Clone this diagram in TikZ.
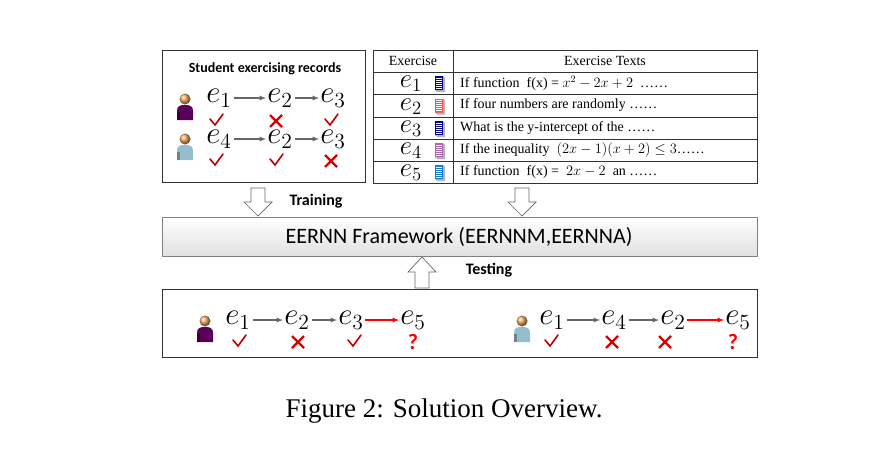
\documentclass[tikz,border=0pt]{standalone}
\usepackage{fontspec}
\usepackage{graphicx}
\setmainfont{Liberation Serif}
\newfontfamily\carl{Carlito}
\newcommand\bigE[1]{\scalebox{1.5}{$e_{#1}$}}
\newcommand\midE[1]{\scalebox{1.3}{$e_{#1}$}}
\tikzset{
  box/.style={draw=black!80, line width=0.8pt},
  ee/.style={inner sep=1pt, font=\fontsize{20}{20}\selectfont},
  ar/.style={-latex, draw=black!60, line width=1.2pt, shorten <=1pt, shorten >=0pt},
  rar/.style={-latex, draw=red, line width=1.2pt},
  tt/.style={anchor=west, inner sep=0pt, font=\fontsize{14}{14}\selectfont},
  lbl/.style={font=\carl\bfseries\fontsize{16}{16}\selectfont, inner sep=0pt},
  chk/.pic={\draw[red!75!black, line width=1.6pt, line cap=round] (-6,-1) -- (-1,5) -- (7,-6);},
  crs/.pic={\draw[red!85!black, line width=2.2pt] (-6,-6) -- (6,6) (-6,6) -- (6,-6);},
  qm/.pic={\node[red, font=\carl\bfseries\fontsize{22}{22}\selectfont] {?};},
  person/.pic={
    \fill[pcol] (-8,12) -- (-8,3) .. controls (-8,-2) and (-5,-3) .. (0,-3) .. controls (5,-3) and (8,-2) .. (8,3) -- (8,12) -- cycle;
    \fill[pcol!60!black] (-8,12) rectangle (-5,4);
    \shade[ball color=orange!60!brown!70] (0,-9) circle (5.5);},
  doc/.pic={
    \fill[pcol] (-4,-7) rectangle (4,7);
    \foreach \k in {-5,-3,...,5} \draw[white, line width=0.4pt] (-3,\k) -- (3,\k);
    \fill[gray!60] (4,-7) -- (6,-5) -- (6,9) -- (-2,9) -- (-4,7) -- (4,7) -- cycle;},
  hollow/.style={draw=black!60, fill=white, line width=0.7pt}
}
\begin{document}
\begin{tikzpicture}[x=1pt,y=-1pt]
\useasboundingbox (0,0) rectangle (888,458);

% Left records box
\node[box, minimum width=203pt, minimum height=132pt, anchor=north west] (rec) at (162,50) {};
\node[font=\carl\bfseries\fontsize{14}{14}\selectfont] (rt) at (265,69) {Student exercising records};
\colorlet{pcol}{violet!70!black}\pic at (185,108) {person};
\colorlet{pcol}{cyan!40!gray!70}\pic at (185,148) {person};
\node[ee] (a1) at (219,98) {\bigE1};
\node[ee] (a2) at (280,98) {\bigE2};
\node[ee] (a3) at (333,98) {\bigE3};
\draw[ar] (a1) -- (a2); \draw[ar] (a2) -- (a3);
\node[ee] (b1) at (219,139) {\bigE4};
\node[ee] (b2) at (280,139) {\bigE2};
\node[ee] (b3) at (333,139) {\bigE3};
\draw[ar] (b1) -- (b2); \draw[ar] (b2) -- (b3);
\pic at (216,120) {chk}; \pic at (276,121) {crs}; \pic at (331,120) {chk};
\pic at (216,160) {chk}; \pic at (276,160) {chk}; \pic at (331,161) {crs};

% Table
\node[box, minimum width=384pt, minimum height=133pt, anchor=north west] (tab) at (373,50) {};
\draw[black!80, line width=0.7pt] (453,50) -- (453,183);
\foreach \yy in {72,94.5,117,139,161} \draw[black!80, line width=0.7pt] (373,\yy) -- (757,\yy);
\node[font=\fontsize{14}{14}\selectfont] (h1) at (413,61) {Exercise};
\node[font=\fontsize{14}{14}\selectfont] (h2) at (605,61) {Exercise Texts};
\foreach \i/\yy/\c in {1/83/blue!60!black,2/105.5/red!70,3/128/blue!50!black,4/150/violet!60,5/172/cyan!60!blue} {
  \node[inner sep=0pt, font=\fontsize{20}{20}\selectfont] (x\i) at (411,\yy+1) {\midE{\i}};
  \colorlet{pcol}{\c}\pic at (439,\yy) {doc};
}
\node[tt] (t1) at (460,83) {If function \ f(x) = $x^2-2x+2$ \ ……};
\node[tt] (t2) at (460,105.5) {If four numbers are randomly ……};
\node[tt] (t3) at (460,128) {What is the y-intercept of the ……};
\node[tt] (t4) at (460,150) {If the inequality \ $(2x-1)(x+2)\leq3$……};
\node[tt] (t5) at (460,172) {If function \ f(x) = \ $2x-2$ \ an ……};

% Framework
\shade[top color=white, bottom color=black!12, draw=black!50, line width=0.6pt] (162,217) rectangle (757,256);
\node[font=\carl\fontsize{22}{22}\selectfont] (fw) at (459,237) {EERNN Framework (EERNNM,EERNNA)};

% Hollow arrows
\draw[hollow] (251,188) -- (265,188) -- (265,202) -- (272,202) -- (258,216) -- (244,202) -- (251,202) -- cycle;
\draw[hollow] (515,188) -- (529,188) -- (529,202) -- (536,202) -- (522,216) -- (508,202) -- (515,202) -- cycle;
\draw[hollow] (415,288) -- (429,288) -- (429,272) -- (436,272) -- (422,257) -- (408,272) -- (415,272) -- cycle;
\node[lbl] (tr) at (316,201) {Training};
\node[lbl] (te) at (489,270) {Testing};

% Bottom box
\node[box, minimum width=595pt, minimum height=68pt, anchor=north west] (bot) at (162,289) {};
\colorlet{pcol}{violet!70!black}\pic at (205,330) {person};
\node[ee] (c1) at (238,320) {\bigE1};
\node[ee] (c2) at (297,320) {\bigE2};
\node[ee] (c3) at (351,320) {\bigE3};
\node[ee] (c4) at (413,320) {\bigE5};
\draw[ar] (c1) -- (c2); \draw[ar] (c2) -- (c3); \draw[rar] (c3) -- (c4);
\pic at (239,341) {chk}; \pic at (298,342) {crs}; \pic at (354,341) {chk}; \pic at (413,342) {qm};
\colorlet{pcol}{cyan!40!gray!70}\pic at (522,330) {person};
\node[ee] (d1) at (552,320) {\bigE1};
\node[ee] (d2) at (614,320) {\bigE4};
\node[ee] (d3) at (673,320) {\bigE2};
\node[ee] (d4) at (738,320) {\bigE5};
\draw[ar] (d1) -- (d2); \draw[ar] (d2) -- (d3); \draw[rar] (d3) -- (d4);
\pic at (551,341) {chk}; \pic at (612,342) {crs}; \pic at (665,342) {crs}; \pic at (733,342) {qm};

% Caption
\node[font=\fontsize{27}{27}\selectfont] (cap) at (444,411) {Figure 2: Solution Overview.};
\end{tikzpicture}
\end{document}
